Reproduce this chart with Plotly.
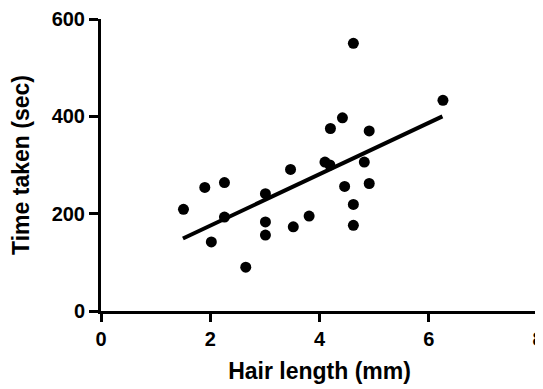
import plotly.graph_objects as go

hair_length = [1.51, 1.90, 2.26, 3.01, 2.26, 2.02, 3.01, 3.01, 2.65, 3.47,
               4.20, 4.42, 4.91, 4.10, 4.19, 4.82, 4.46, 4.91, 4.62, 4.62,
               3.81, 3.52, 4.62, 6.26]
time_taken = [209, 254, 264, 241, 193, 142, 183, 156, 90, 291,
              375, 397, 370, 306, 300, 306, 256, 262, 219, 176,
              195, 173, 550, 433]

fit_x = [1.5, 6.25]
fit_y = [149, 400]

x_ticks = [0, 2, 4, 6, 8]
y_ticks = [0, 200, 400, 600]

FONT = "Liberation Sans, Arial, Helvetica, sans-serif"

fig = go.Figure()
fig.add_trace(go.Scatter(x=fit_x, y=fit_y, mode="lines",
                         line=dict(color="black", width=4), hoverinfo="skip",
                         showlegend=False, cliponaxis=False))
fig.add_trace(go.Scatter(x=hair_length, y=time_taken, mode="markers",
                         marker=dict(color="black", size=11),
                         showlegend=False, cliponaxis=False))

fig.update_layout(
    width=535, height=381,
    margin=dict(l=93, r=5, t=11, b=78),
    plot_bgcolor="white", paper_bgcolor="white",
    font=dict(family=FONT, color="black"),
    xaxis=dict(range=[0, 8], tickvals=x_ticks, ticktext=[str(v) for v in x_ticks],
               showgrid=False, zeroline=False, showline=True, linecolor="black",
               linewidth=3, ticks="outside", ticklen=8, tickwidth=3, tickcolor="black",
               ticklabeloverflow="allow",
               tickfont=dict(size=20, weight="bold", family=FONT),
               title=dict(text="Hair length (mm)", standoff=14,
                          font=dict(size=23, weight="bold", family=FONT)),
               automargin=False),
    yaxis=dict(range=[0, 600], tickvals=y_ticks, ticktext=[str(v) for v in y_ticks],
               showgrid=False, zeroline=False, showline=True, linecolor="black",
               linewidth=3, ticks="outside", ticklen=9, tickwidth=3, tickcolor="black",
               ticklabelstandoff=0, ticklabeloverflow="allow",
               tickfont=dict(size=20, weight="bold", family=FONT),
               title=dict(text="Time taken (sec)", standoff=16,
                          font=dict(size=23, weight="bold", family=FONT)),
               automargin=False),
)

fig.write_html("out.html")
